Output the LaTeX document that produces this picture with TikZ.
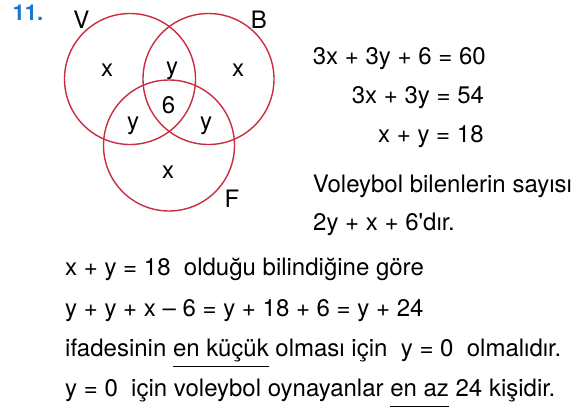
\documentclass[tikz,border=0pt]{standalone}
\usepackage{fontspec}
\setmainfont{TeX Gyre Heros}
\definecolor{vennred}{RGB}{200,45,65}
\definecolor{numblue}{RGB}{25,118,210}
\newcommand\myul[1]{\setbox0\hbox{#1}\rlap{\raisebox{-11pt}{\rule{\wd0}{0.8pt}}}\box0\relax}
\begin{document}
\begin{tikzpicture}[x=1pt,y=-1pt,
  txt/.style={anchor=base west, inner sep=0pt, font=\fontsize{24}{28}\selectfont},
  lbl/.style={anchor=base, inner sep=0pt, font=\fontsize{24}{28}\selectfont},
  numstyle/.style={anchor=base west, inner sep=0pt, font=\fontsize{22}{26}\selectfont\bfseries, text=numblue},
  venn/.style={circle, draw=vennred, line width=1.4pt, minimum size=131pt, inner sep=0pt}]
\useasboundingbox (0,0) rectangle (584,413);
% circles
\node[venn] (cV) at (130,79) {};
\node[venn] (cB) at (208.5,79) {};
\node[venn] (cF) at (169,145.5) {};
% labels
\node[numstyle] (num) at (12.5,20.7) {11.};
\node[lbl] (lV) at (81.5,28.3) {V};
\node[lbl] (lB) at (259,28) {B};
\node[lbl] (lF) at (232,207.7) {F};
\node[lbl] (xV) at (107,76) {x};
\node[lbl] (yVB) at (172,74) {y};
\node[lbl] (xB) at (238,76) {x};
\node[lbl] (six) at (168.5,113) {6};
\node[lbl] (yVF) at (133,129) {y};
\node[lbl] (yBF) at (206,129) {y};
\node[lbl] (xF) at (168,178) {x};
% right column
\node[txt] (e1) at (312.7,64) {3x + 3y + 6 = 60};
\node[txt] (e2) at (351.7,103) {3x + 3y = 54};
\node[txt] (e3) at (378,142) {x + y = 18};
\node[txt] (e4) at (312.7,192) {Voleybol bilenlerin sayısı};
\node[txt] (e5) at (313,230) {2y + x + 6\textquotesingle dır.};
% bottom lines
\node[txt] (b1) at (65,275) {x + y = 18\ \ olduğu bilindiğine göre};
\node[txt] (b2) at (65,316) {y + y + x – 6 = y + 18 + 6 = y + 24};
\node[txt] (b3) at (65,356) {ifadesinin \myul{en küçük} olması için\ \ y = 0\ \ olmalıdır.};
\node[txt] (b4) at (65,396) {y = 0\ \ için voleybol oynayanlar \myul{en az} 24 kişidir.};
\end{tikzpicture}
\end{document}
